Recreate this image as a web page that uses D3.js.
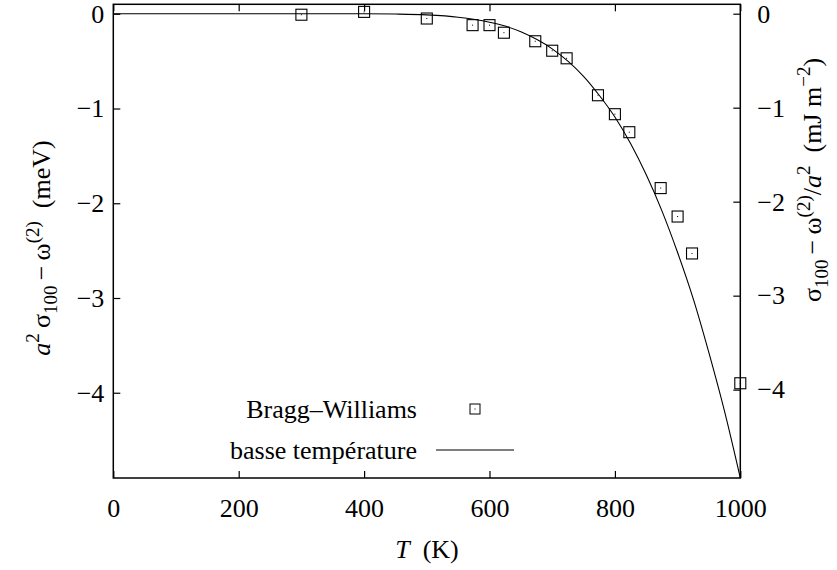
<!DOCTYPE html>
<html><head><meta charset="utf-8">
<script src="https://cdn.jsdelivr.net/npm/d3@7/dist/d3.min.js"></script>
<style>
body{margin:0;background:#fff;}
</style></head>
<body><svg id="c" width="837" height="570" font-family="Liberation Serif, DejaVu Serif, Noto Serif, Times, serif"></svg>
<script>
// Bragg–Williams data points (T in K, value in meV)
const bwT = [300, 400, 500, 573, 600, 623, 673, 700, 723, 773, 800, 823, 873, 900, 923, 1000];
const bwV = [-0.01, 0.02, -0.05, -0.12, -0.12, -0.20, -0.29, -0.39, -0.47, -0.86, -1.06, -1.25, -1.84, -2.14, -2.53, -3.90];
// low-temperature expansion curve
const ltT = [0, 100, 200, 300, 400, 450, 500, 550, 600, 625, 650, 675, 700, 725, 750, 775, 800, 825, 850, 875, 900, 925, 950, 975, 1000];
const ltV = [0, 0, 0, 0, 0, -0.003, -0.012, -0.036, -0.089, -0.13, -0.19, -0.27, -0.37, -0.50, -0.66, -0.86, -1.09, -1.37, -1.70, -2.08, -2.52, -3.01, -3.58, -4.20, -4.90];
const xTicks = [0, 200, 400, 600, 800, 1000];
const yTicks = [0, -1, -2, -3, -4];
const yRightTicks = [0, -1, -2, -3, -4];
const legendLabels = ["Bragg\u2013Williams", "basse temp\u00e9rature"];

const L = 113.3, R = 740.3, T = 4.3, B = 478;
const FS = 26;
const FF = "Liberation Serif, DejaVu Serif, Noto Serif, Times, serif";
const svg = d3.select("#c");
const x = d3.scaleLinear().domain([0, 1000]).range([L, R]);
const y = d3.scaleLinear().domain([-4.9, 0.1]).range([B, T]);
const y2 = d3.scaleLinear().domain([-4.94, 0.1]).range([B, T]);
const tl = 7;

svg.append("defs").append("clipPath").attr("id","clip")
  .append("rect").attr("x",L).attr("y",T).attr("width",R-L).attr("height",B-T);

const fmt = d => d < 0 ? "\u2212" + Math.abs(d) : String(d);
const gB = svg.append("g").attr("transform",`translate(0,${B})`)
  .call(d3.axisBottom(x).tickValues(xTicks).tickSizeInner(-tl).tickSizeOuter(0).tickPadding(30).tickFormat(d=>d));
const gT = svg.append("g").attr("transform",`translate(0,${T})`)
  .call(d3.axisTop(x).tickValues(xTicks).tickSizeInner(-tl).tickSizeOuter(0).tickFormat(""));
const gL = svg.append("g").attr("transform",`translate(${L},0)`)
  .call(d3.axisLeft(y).tickValues(yTicks).tickSizeInner(-tl).tickSizeOuter(0).tickPadding(9).tickFormat(fmt));
const gR = svg.append("g").attr("transform",`translate(${R},0)`)
  .call(d3.axisRight(y2).tickValues(yRightTicks).tickSizeInner(-tl).tickSizeOuter(0).tickPadding(17).tickFormat(fmt));
[gB,gT,gL,gR].forEach(g=>{
  g.attr("font-family",FF).attr("font-size",FS);
  g.select(".domain").remove();
  g.selectAll(".tick line").attr("stroke","#000").attr("stroke-width",1.2);
  g.selectAll("text").attr("fill","#000");
});
gB.selectAll("text").attr("dy","0.35em");

svg.append("rect").attr("x",L).attr("y",T).attr("width",R-L).attr("height",B-T)
  .attr("fill","none").attr("stroke","#000").attr("stroke-width",1.5);

const line = d3.line().x((d,i)=>x(ltT[i])).y((d,i)=>y(ltV[i])).curve(d3.curveMonotoneX);
svg.append("path").datum(ltV).attr("clip-path","url(#clip)").attr("d",line)
  .attr("fill","none").attr("stroke","#000").attr("stroke-width",1.1);

const s = 11;
const pts = svg.append("g").selectAll("g").data(bwV).join("g")
  .attr("transform",(d,i)=>`translate(${x(bwT[i])},${y(d)})`);
pts.append("rect").attr("x",-s/2).attr("y",-s/2).attr("width",s).attr("height",s)
  .attr("fill","none").attr("stroke","#000").attr("stroke-width",1.1);
pts.append("rect").attr("x",-0.5).attr("y",-0.5).attr("width",1).attr("height",1).attr("fill","#000");

const lg = svg.append("g").attr("font-family",FF).attr("font-size",FS);
lg.append("text").attr("x",417).attr("y",409).attr("dy","0.35em").attr("text-anchor","end").text(legendLabels[0]);
const ls = 10;
lg.append("rect").attr("x",475-ls/2).attr("y",409-ls/2).attr("width",ls).attr("height",ls)
  .attr("fill","none").attr("stroke","#000").attr("stroke-width",1);
lg.append("rect").attr("x",474.5).attr("y",408.5).attr("width",1).attr("height",1).attr("fill","#000");
lg.append("text").attr("x",417).attr("y",450).attr("dy","0.35em").attr("text-anchor","end").text(legendLabels[1]);
lg.append("line").attr("x1",436).attr("x2",514).attr("y1",450).attr("y2",450)
  .attr("stroke","#000").attr("stroke-width",1.1);

const xl = svg.append("text").attr("x",427).attr("y",558).attr("text-anchor","middle")
  .attr("font-family",FF).attr("font-size",FS);
xl.append("tspan").attr("font-style","italic").text("T");
xl.append("tspan").text("\u2002(K)");

const SB = 19;
const yl = svg.append("text").attr("transform","translate(50,248) rotate(-90)").attr("text-anchor","middle")
  .attr("font-family",FF).attr("font-size",FS);
yl.append("tspan").attr("font-style","italic").text("a");
yl.append("tspan").attr("dy",-11).attr("font-size",SB).text("2");
yl.append("tspan").attr("dy",11).text("\u2009\u03c3");
yl.append("tspan").attr("dy",7).attr("font-size",SB).text("100");
yl.append("tspan").attr("dy",-7).text("\u2009\u2212\u2009\u03c9");
yl.append("tspan").attr("dy",-11).attr("font-size",SB).text("(2)");
yl.append("tspan").attr("dy",11).text("\u2002(meV)");

const yr = svg.append("text").attr("transform","translate(821,180) rotate(-90)").attr("text-anchor","middle")
  .attr("font-family",FF).attr("font-size",FS);
yr.append("tspan").text("\u03c3");
yr.append("tspan").attr("dy",7).attr("font-size",SB).text("100");
yr.append("tspan").attr("dy",-7).text("\u2009\u2212\u2009\u03c9");
yr.append("tspan").attr("dy",-11).attr("font-size",SB).text("(2)");
yr.append("tspan").attr("dy",11).text("/");
yr.append("tspan").attr("font-style","italic").text("a");
yr.append("tspan").attr("dy",-11).attr("font-size",SB).text("2");
yr.append("tspan").attr("dy",11).text("\u2002(mJ m");
yr.append("tspan").attr("dy",-11).attr("font-size",SB).text("\u22122");
yr.append("tspan").attr("dy",11).text(")");
</script></body></html>
